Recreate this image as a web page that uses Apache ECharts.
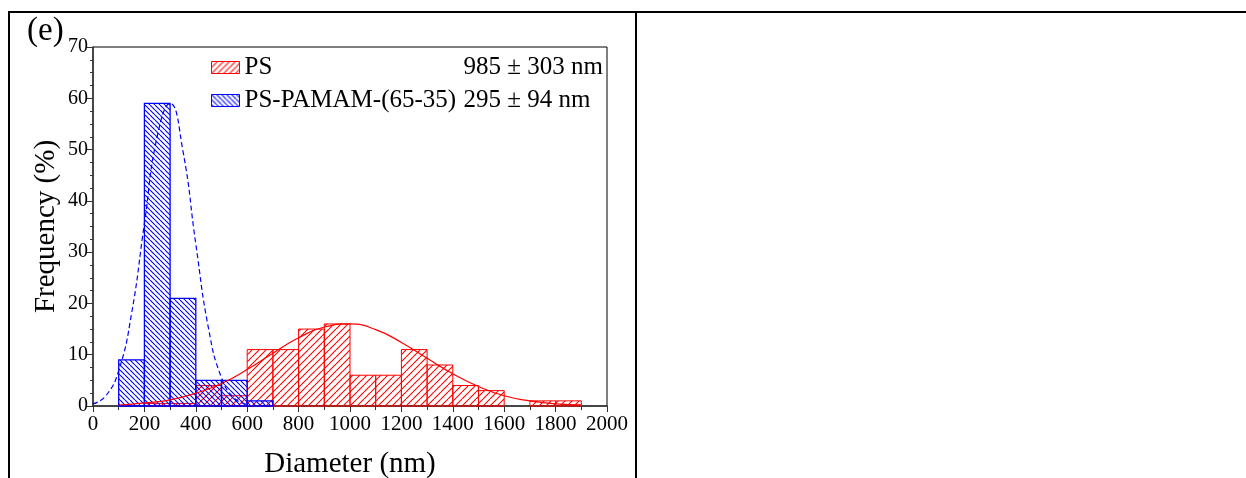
<!DOCTYPE html>
<html>
<head>
<meta charset="utf-8">
<script src="https://cdn.jsdelivr.net/npm/echarts@6/dist/echarts.min.js"></script>
<style>
  html, body { margin: 0; padding: 0; background: #fff; }
  #chart { width: 1246px; height: 478px; }
</style>
</head>
<body>
<div id="chart"></div>
<script>
// histogram bins, 100 nm wide, given by their left edge
const binStarts = [0, 100, 200, 300, 400, 500, 600, 700, 800, 900, 1000, 1100, 1200, 1300, 1400, 1500, 1600, 1700, 1800]
const binWidth = 100
const psFreq = [0, 0, 0.5, 0.5, 4, 2, 11, 11, 15, 16, 6, 6, 11, 8, 4, 3, 0, 1, 1]
const pamamFreq = [0, 9, 59, 21, 5, 5, 1, 0, 0, 0, 0, 0, 0, 0, 0, 0, 0, 0, 0]

// fitted curves
const psFitX = [100, 200, 300, 400, 500, 600, 700, 800, 900, 1000, 1100, 1200, 1300, 1400, 1500, 1600, 1700, 1800, 1900]
const psFitY = [0.2, 0.6, 1.2, 2.5, 4.4, 7.1, 10.3, 13.3, 15.4, 16, 14.9, 12.4, 9.3, 6.3, 3.8, 2.0, 1.0, 0.4, 0.2]
const pamamFitX = [0, 50, 100, 150, 200, 250, 300, 350, 400, 450, 500, 550, 600]
const pamamFitY = [0.4, 2, 6.9, 18, 35.6, 52.6, 59, 49.7, 31.6, 15, 5.5, 1.5, 0.3]

const seriesNames = ['PS', 'PS-PAMAM-(65-35)']
const seriesStats = ['985 ± 303 nm', '295 ± 94 nm']
const xTicks = { min: 0, max: 2000, interval: 200 }
const yTicks = { min: 0, max: 70, interval: 10 }

function hatch(color, step, forward) {
  const c = document.createElement('canvas')
  c.width = step
  c.height = step
  const g = c.getContext('2d')
  g.strokeStyle = color
  g.lineWidth = 1.1
  g.beginPath()
  for (let k = -1; k <= 1; k++) {
    if (forward) {
      g.moveTo(k * step, step)
      g.lineTo(k * step + step, 0)
    } else {
      g.moveTo(k * step, 0)
      g.lineTo(k * step + step, step)
    }
  }
  g.stroke()
  return { image: c, repeat: 'repeat' }
}

const redHatch = hatch('#ff0000', 7, true)
const blueHatch = hatch('#0000ff', 5, false)
const legendRed = hatch('#ff0000', 6, true)
const legendBlue = hatch('#0000ff', 5, false)

function binData(freq) {
  const out = []
  freq.forEach((v, i) => {
    if (v > 0) out.push([binStarts[i], binStarts[i] + binWidth, v])
  })
  return out
}

function histRender(fill, stroke, lw) {
  return function (params, api) {
    const p0 = api.coord([api.value(0), api.value(2)])
    const p1 = api.coord([api.value(1), 0])
    return {
      type: 'rect',
      shape: { x: p0[0], y: p0[1], width: p1[0] - p0[0], height: p1[1] - p0[1] },
      style: { fill: fill, stroke: stroke, lineWidth: lw }
    }
  }
}

const font = 'Liberation Serif'
const chart = echarts.init(document.getElementById('chart'))

chart.setOption({
  animation: false,
  grid: {
    left: 93, right: 639, top: 47, bottom: 72,
    outerBoundsMode: 'none',
    show: true, borderColor: '#000', borderWidth: 1
  },
  xAxis: {
    type: 'value',
    min: xTicks.min, max: xTicks.max, interval: xTicks.interval,
    name: 'Diameter (nm)',
    nameLocation: 'middle',
    nameGap: 44,
    nameTextStyle: { fontFamily: font, fontSize: 29, color: '#000' },
    axisLine: { show: true, onZero: false, lineStyle: { color: '#333', width: 1.5 } },
    axisTick: { show: true, inside: false, length: 6, lineStyle: { color: '#333' } },
    minorTick: { show: true, splitNumber: 2, length: 4, lineStyle: { color: '#333' } },
    axisLabel: { fontFamily: font, fontSize: 21, color: '#000', margin: 8, formatter: v => String(v) },
    splitLine: { show: false }
  },
  yAxis: {
    type: 'value',
    min: yTicks.min, max: yTicks.max, interval: yTicks.interval,
    name: 'Frequency (%)',
    nameLocation: 'middle',
    nameGap: 32,
    nameTextStyle: { fontFamily: font, fontSize: 29, color: '#000' },
    axisLine: { show: true, onZero: false, lineStyle: { color: '#333', width: 1.5 } },
    axisTick: { show: true, inside: false, length: 6, lineStyle: { color: '#333' } },
    minorTick: { show: true, splitNumber: 4, length: 3, lineStyle: { color: '#333' } },
    axisLabel: { fontFamily: font, fontSize: 20, color: '#000', margin: 5, formatter: v => String(v) },
    splitLine: { show: false }
  },
  legend: {
    left: 211, top: 55,
    padding: 0,
    orient: 'vertical',
    itemWidth: 28, itemHeight: 12,
    itemGap: 8,
    icon: 'rect',
    data: [
      { name: seriesNames[0], itemStyle: { color: legendRed, borderColor: '#ff0000', borderWidth: 1 } },
      { name: seriesNames[1], itemStyle: { color: legendBlue, borderColor: '#0000ff', borderWidth: 1 } }
    ],
    formatter: function (name) {
      const i = seriesNames.indexOf(name)
      return '{a|' + name + '}{b|' + seriesStats[i] + '}'
    },
    textStyle: {
      rich: {
        a: { fontFamily: font, fontSize: 25, color: '#000', width: 219, lineHeight: 28 },
        b: { fontFamily: font, fontSize: 25, color: '#000', lineHeight: 28 }
      }
    }
  },
  graphic: [
    { type: 'line', shape: { x1: 8, y1: 12, x2: 1246, y2: 12 }, style: { stroke: '#000', lineWidth: 2 } },
    { type: 'line', shape: { x1: 9, y1: 12, x2: 9, y2: 478 }, style: { stroke: '#000', lineWidth: 2 } },
    { type: 'line', shape: { x1: 636, y1: 12, x2: 636, y2: 478 }, style: { stroke: '#000', lineWidth: 2 } },
    { type: 'text', left: 27, top: 15, style: { text: '(e)', font: '33px "Liberation Serif"', fill: '#000' } }
  ],
  series: [
    {
      name: seriesNames[0],
      type: 'custom',
      renderItem: histRender(redHatch, '#ff0000', 1),
      encode: { x: [0, 1], y: 2 },
      data: binData(psFreq),
      z: 2
    },
    {
      name: seriesNames[1],
      type: 'custom',
      renderItem: histRender(blueHatch, '#0000ff', 1.3),
      encode: { x: [0, 1], y: 2 },
      data: binData(pamamFreq),
      z: 3
    },
    {
      name: 'PS fit',
      type: 'line',
      smooth: true,
      symbol: 'none',
      lineStyle: { color: '#ff0000', width: 1.2 },
      data: psFitX.map((x, i) => [x, psFitY[i]]),
      z: 4
    },
    {
      name: 'PS-PAMAM fit',
      type: 'line',
      smooth: true,
      symbol: 'none',
      lineStyle: { color: '#0000ff', width: 1.2, type: [5, 3] },
      data: pamamFitX.map((x, i) => [x, pamamFitY[i]]),
      z: 4
    }
  ]
})
</script>
</body>
</html>
